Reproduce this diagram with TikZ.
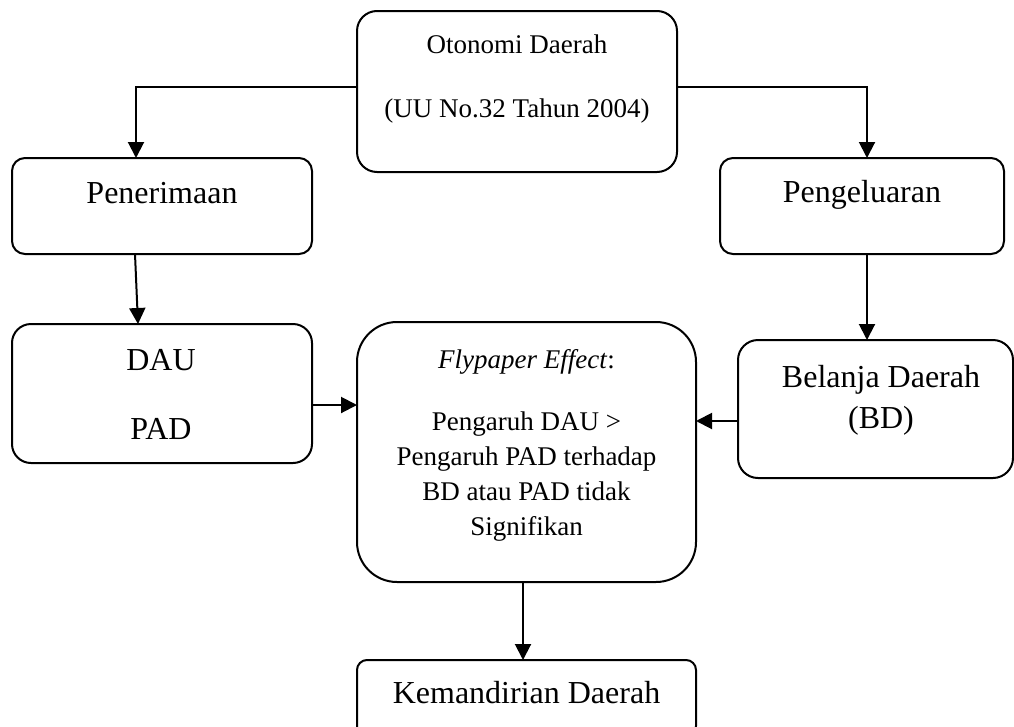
\documentclass[tikz,border=0pt]{standalone}
\usepackage{fontspec}
\setmainfont{Liberation Serif}
\usetikzlibrary{arrows.meta}
\begin{document}
\begin{tikzpicture}[x=1pt,y=-1pt,
  box/.style={draw, line width=2pt, inner sep=0pt, outer sep=0pt, rectangle},
  big/.style={font=\fontsize{32}{38}\selectfont, anchor=base, inner sep=0pt},
  small/.style={font=\fontsize{27}{32}\selectfont, anchor=base, inner sep=0pt},
  arr/.style={line width=2pt, -{Triangle[length=16pt,width=16pt]}}]
\useasboundingbox (0,0) rectangle (1014,726);
\clip (0,0) rectangle (1014,726);
% boxes
\node[box, rounded corners=20pt, minimum width=320pt, minimum height=161pt] (top) at (517,91.5) {};
\node[box, rounded corners=13pt, minimum width=300pt, minimum height=96pt] (pen) at (162,206) {};
\node[box, rounded corners=13pt, minimum width=284pt, minimum height=96pt] (peng) at (862,206) {};
\node[box, rounded corners=19pt, minimum width=300pt, minimum height=139pt] (dau) at (162,393.5) {};
\node[box, rounded corners=40pt, minimum width=339pt, minimum height=260pt] (fly) at (526.5,452) {};
\node[box, rounded corners=20pt, minimum width=275pt, minimum height=138pt] (bel) at (875.5,409) {};
\node[box, rounded corners=10pt, minimum width=339pt, minimum height=76pt] (kem) at (526.5,698) {};
% texts
\node[small] (t1) at (517,53) {Otonomi Daerah};
\node[small] (t2) at (517,117) {(UU No.32 Tahun 2004)};
\node[big] (t3) at (162,203) {Penerimaan};
\node[big] (t4) at (862,202) {Pengeluaran};
\node[big] (t5) at (161,370) {DAU};
\node[big] (t6) at (161,439) {PAD};
\node[small] (f1) at (526.5,368) {\textit{Flypaper Effect}:};
\node[small] (f2) at (526.5,430) {Pengaruh DAU >};
\node[small] (f3) at (526.5,465) {Pengaruh PAD terhadap};
\node[small] (f4) at (526.5,500) {BD atau PAD tidak};
\node[small] (f5) at (526.5,535) {Signifikan};
\node[big] (b1) at (881,387) {Belanja Daerah};
\node[big] (b2) at (881,428) {(BD)};
\node[big] (k1) at (526.5,703) {Kemandirian Daerah};
% connectors
\coordinate (cl) at (136,87);
\coordinate (cr) at (867,87);
\coordinate (ps) at (135,0);
\coordinate (dn) at (138,0);
\coordinate (dy) at (0,405);
\coordinate (by) at (0,421);
\coordinate (fx) at (523,0);
\draw[arr] (top.west |- cl) -| (pen.north -| cl);
\draw[arr] (top.east |- cr) -| (peng.north -| cr);
\draw[arr] (pen.south -| ps) -- (dau.north -| dn);
\draw[arr] (peng.south -| cr) -- (bel.north -| cr);
\draw[arr] (dau.east |- dy) -- (fly.west |- dy);
\draw[arr] (bel.west |- by) -- (fly.east |- by);
\draw[arr] (fly.south -| fx) -- (kem.north -| fx);
\end{tikzpicture}
\end{document}
